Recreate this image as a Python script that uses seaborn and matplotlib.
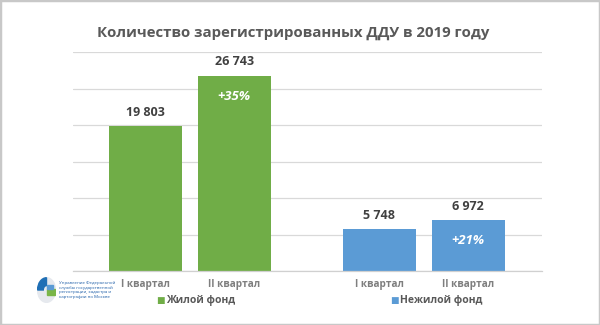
import matplotlib
matplotlib.use("Agg")
import matplotlib.pyplot as plt
import matplotlib.patches as mpatches
import seaborn as sns
import pandas as pd

# ---- data ----
quarters = ["I квартал", "II квартал", "I квартал", "II квартал"]
funds = ["Жилой фонд", "Жилой фонд", "Нежилой фонд", "Нежилой фонд"]
values = [19803, 26743, 5748, 6972]
value_labels = ["19 803", "26 743", "5 748", "6 972"]
growth_labels = ["", "+35%", "", "+21%"]
positions = [0, 1, 2.63, 3.63]
title = "Количество зарегистрированных ДДУ в 2019 году"
logo_text = "Управление Федеральной\nслужбы государственной\nрегистрации, кадастра и\nкартографии по Москве"

colors = {"Жилой фонд": "#70AD47", "Нежилой фонд": "#5B9BD5"}

sns.set_theme(style="white")
plt.rcParams["font.family"] = ["Open Sans", "DejaVu Sans"]

df = pd.DataFrame({"pos": positions, "value": values, "fund": funds})

fig = plt.figure(figsize=(6, 3.25), dpi=100)
fig.patch.set_facecolor("white")
ax = fig.add_axes([73 / 600, 1 - 271 / 325, (542 - 73) / 600, (271 - 52) / 325])

sns.barplot(data=df, x="pos", y="value", hue="fund", palette=colors,
            native_scale=True, dodge=False, width=0.82, ax=ax,
            legend=False, saturation=1, edgecolor="none")

ax.set_ylim(0, 30000)
ax.set_xlim(-0.81, 4.46)
ax.set_yticks(range(0, 30001, 5000))
ax.yaxis.grid(True, color="#d9d9d9", linewidth=0.9)
ax.set_axisbelow(True)
for s in ["top", "right", "left"]:
    ax.spines[s].set_visible(False)
ax.spines["bottom"].set_color("#d0d0d0")
ax.spines["bottom"].set_linewidth(0.9)
ax.tick_params(axis="y", left=False, labelleft=False)
ax.tick_params(axis="x", bottom=False, length=0, pad=5.5)
ax.set_xticks(positions)
ax.set_xticklabels(quarters, fontsize=7.2, color="#7f7f7f", fontweight="bold")
ax.set_xlabel("")
ax.set_ylabel("")

for p, v, lab, g in zip(positions, values, value_labels, growth_labels):
    ax.annotate(lab, (p, v), xytext=(0, 10), textcoords="offset points",
                ha="center", va="center", fontsize=9, fontweight="bold", color="#404040")
    if g:
        ax.annotate(g, (p, v), xytext=(0, -15), textcoords="offset points",
                    ha="center", va="center", fontsize=9.5, fontweight="bold",
                    fontstyle="italic", color="white")

fig.text(293 / 600, 1 - 33 / 325, title, ha="center", va="center",
         fontsize=10.8, fontweight="bold", color="#595959")

# legend entries
for x, name in [(156, "Жилой фонд"), (390, "Нежилой фонд")]:
    fig.text(x / 600, 1 - 300 / 325, "■", ha="left", va="center",
             fontsize=6.5, color=colors[name], family=["DejaVu Sans"])
    fig.text((x + 10) / 600, 1 - 300 / 325, name, ha="left", va="center",
             fontsize=7.5, fontweight="bold", color="#595959")

# logo
lax = fig.add_axes([37 / 600, 1 - 303 / 325, 19 / 600, 26 / 325])
lax.set_xlim(0, 1)
lax.set_ylim(0, 1)
lax.axis("off")
lax.add_patch(mpatches.Ellipse((0.5, 0.5), 0.95, 0.95, color="#e6e9ee"))
lax.add_patch(mpatches.Wedge((0.5, 0.5), 0.47, 90, 180, color="#1f6fb5", width=0.3))
lax.add_patch(mpatches.Rectangle((0.55, 0.3), 0.4, 0.22, color="#7ab648"))
lax.add_patch(mpatches.Rectangle((0.55, 0.55), 0.3, 0.15, color="#5b9bd5"))
fig.text(59 / 600, 1 - 290 / 325, logo_text, ha="left", va="center",
         fontsize=3.2, color="#1f5fa8", linespacing=1.3)

# frame
fig.patches.append(mpatches.Rectangle((0, 0), 1, 1, transform=fig.transFigure,
                                      fill=False, edgecolor="#c8c8c8", linewidth=2.5))

fig.savefig("out.png", dpi=100)
